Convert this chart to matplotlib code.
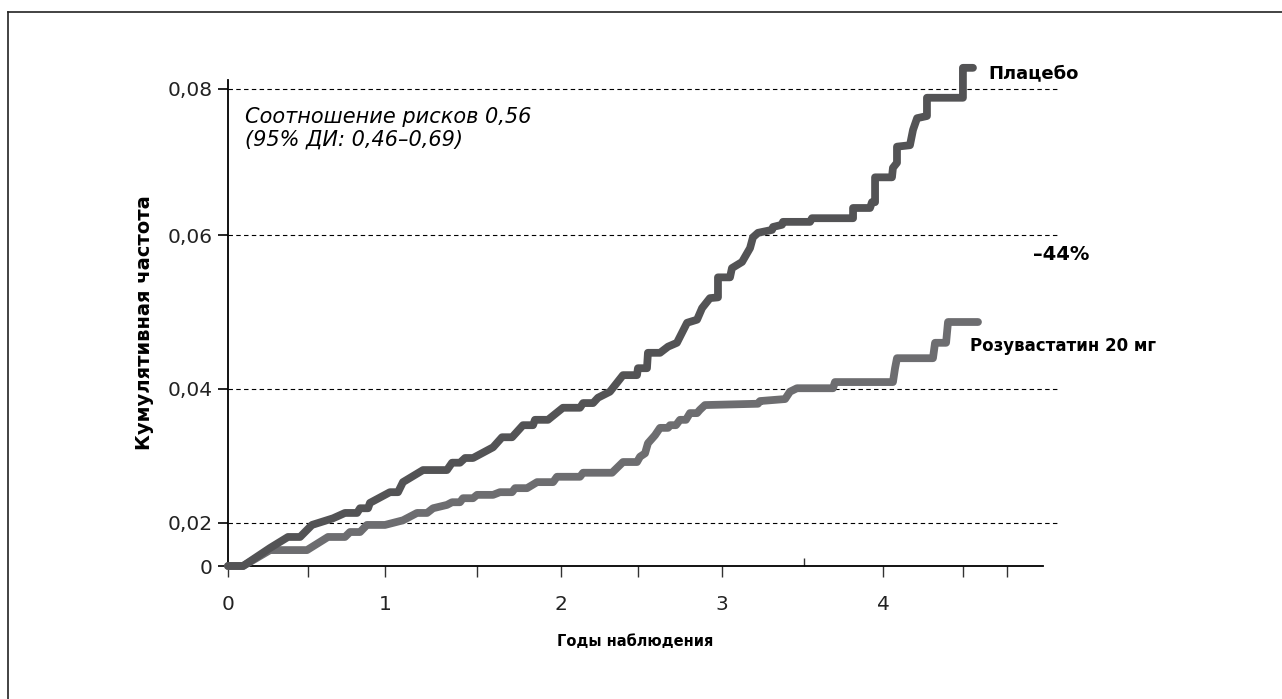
import numpy as np
import matplotlib
matplotlib.use("Agg")
import matplotlib.pyplot as plt
import matplotlib.lines as mlines

plt.rcParams['font.family'] = ['DejaVu Sans']

# years of follow-up / cumulative incidence
placebo_x = [0, 0.096, 0.268, 0.382, 0.459, 0.535, 0.669, 0.745, 0.822, 0.841, 0.892, 0.904,
             1.028, 1.074, 1.102, 1.216, 1.352, 1.381, 1.426, 1.455, 1.5, 1.614, 1.665, 1.722,
             1.784, 1.841, 1.852, 1.926, 2.012, 2.118, 2.137, 2.199, 2.230, 2.304, 2.385, 2.472,
             2.478, 2.534, 2.540, 2.615, 2.665, 2.720, 2.783, 2.845, 2.876, 2.925, 2.975, 2.975,
             3.049, 3.061, 3.123, 3.172, 3.190, 3.221, 3.307, 3.313, 3.368, 3.374, 3.540, 3.552,
             3.804, 3.804, 3.908, 3.920, 3.939, 3.939, 4.043, 4.049, 4.074, 4.074, 4.154, 4.173,
             4.198, 4.259, 4.259, 4.481, 4.481, 4.543]
placebo_y = [0, 0, 0.0084, 0.0135, 0.0135, 0.0191, 0.0207, 0.0215, 0.0215, 0.0222, 0.0222, 0.0230,
             0.0246, 0.0246, 0.0261, 0.0279, 0.0279, 0.0290, 0.0290, 0.0297, 0.0297, 0.0313, 0.0328, 0.0328,
             0.0346, 0.0346, 0.0354, 0.0354, 0.0372, 0.0372, 0.0379, 0.0379, 0.0387, 0.0396, 0.0418, 0.0418,
             0.0427, 0.0427, 0.0447, 0.0447, 0.0455, 0.0460, 0.0486, 0.0490, 0.0505, 0.0518, 0.0519, 0.0545,
             0.0545, 0.0557, 0.0565, 0.0583, 0.0597, 0.0603, 0.0607, 0.0611, 0.0614, 0.0618, 0.0618, 0.0623,
             0.0623, 0.0637, 0.0637, 0.0645, 0.0645, 0.0679, 0.0679, 0.0692, 0.0699, 0.0721, 0.0723, 0.0744,
             0.0760, 0.0763, 0.0788, 0.0788, 0.0829, 0.0829]

rosu_x = [0, 0.096, 0.268, 0.503, 0.637, 0.745, 0.777, 0.841, 0.885, 1.0, 1.102, 1.182, 1.239,
          1.273, 1.352, 1.381, 1.426, 1.443, 1.5, 1.523, 1.614, 1.653, 1.722, 1.739, 1.807, 1.864,
          1.955, 1.977, 2.118, 2.137, 2.317, 2.385, 2.472, 2.491, 2.522, 2.540, 2.584, 2.615, 2.665,
          2.677, 2.714, 2.739, 2.776, 2.801, 2.845, 2.863, 2.894, 3.221, 3.233, 3.387, 3.417, 3.460,
          3.681, 3.693, 4.049, 4.062, 4.074, 4.296, 4.309, 4.377, 4.389, 4.574]
rosu_y = [0, 0, 0.0074, 0.0074, 0.0135, 0.0135, 0.0158, 0.0158, 0.0191, 0.0191, 0.0204, 0.0215, 0.0215,
          0.0222, 0.0227, 0.0231, 0.0231, 0.0237, 0.0237, 0.0242, 0.0242, 0.0246, 0.0246, 0.0252, 0.0252, 0.0261,
          0.0261, 0.0269, 0.0269, 0.0275, 0.0275, 0.0291, 0.0291, 0.0299, 0.0304, 0.0319, 0.0331, 0.0342, 0.0342,
          0.0346, 0.0346, 0.0354, 0.0354, 0.0364, 0.0364, 0.0369, 0.0376, 0.0378, 0.0382, 0.0385, 0.0396, 0.0401,
          0.0401, 0.0409, 0.0409, 0.0427, 0.0440, 0.0440, 0.0460, 0.0460, 0.0487, 0.0487]

y_ticks = [0, 0.02, 0.04, 0.06, 0.08]
y_labels = ['0', '0,02', '0,04', '0,06', '0,08']
x_marks = [0, 0.51, 1, 1.52, 2, 2.48, 3, 3.5, 3.99, 4.48, 4.75]
x_labels = ['0', '', '1', '', '2', '', '3', '', '4', '', '']

# the printed axes are not evenly spaced, so use piecewise scales
xk = np.array([0, 1, 2, 3, 4, 5])
xp = np.array([0, 157, 333, 494, 657, 819])
yk = np.array([0, 0.02, 0.04, 0.06, 0.08, 0.10])
yp = np.array([0, 43, 177, 331, 477, 623])

fx = lambda v: np.interp(v, xk, xp)
ix = lambda v: np.interp(v, xp, xk)
fy = lambda v: np.interp(v, yk, yp)
iy = lambda v: np.interp(v, yp, yk)

fig = plt.figure(figsize=(12.82, 6.99), dpi=100)
ax = fig.add_axes([228/1282, 133/699, 815/1282, 486/699])
ax.set_xscale('function', functions=(fx, ix))
ax.set_yscale('function', functions=(fy, iy))
ax.set_xlim(0, ix(815))
ax.set_ylim(0, iy(486))

for g in y_ticks[1:]:
	ax.axhline(g, xmin=0, xmax=1.017, color='black', lw=0.8, ls=(0, (4, 3)), clip_on=False, zorder=1)

ax.plot(rosu_x, rosu_y, color='#6d6d70', lw=5.6, solid_capstyle='round', solid_joinstyle='round', clip_on=False, zorder=3)
ax.plot(placebo_x, placebo_y, color='#535355', lw=5.6, solid_capstyle='round', solid_joinstyle='round', clip_on=False, zorder=4)

for s in ['top', 'right']: ax.spines[s].set_visible(False)
for s in ['left', 'bottom']:
	ax.spines[s].set_linewidth(1.3)
	ax.spines[s].set_color('black')

ax.set_yticks(y_ticks)
ax.set_yticklabels(y_labels, fontsize=14.5, color='#222222')
ax.tick_params(axis='y', length=7, width=1.2, pad=4)

ax.set_xticks(x_marks)
ax.set_xticklabels(x_labels, fontsize=14.5, color='#222222')
ax.tick_params(axis='x', length=8, width=1, color='#333333', pad=13)
up = ax.xaxis.get_major_ticks()[x_marks.index(3.5)]
up.tick1line.set_marker(mlines.TICKUP)
up.tick1line.set_markersize(6)

ax.set_xlabel('Годы наблюдения', fontsize=10.5, fontweight='bold', labelpad=14)
ax.set_ylabel('Кумулятивная частота', fontsize=14, fontweight='bold', labelpad=10)

ax.text(0.108, 0.0753, 'Соотношение рисков 0,56', fontsize=15, style='italic', va='baseline', ha='left')
ax.text(0.108, 0.0723, '(95% ДИ: 0,46–0,69)', fontsize=15, style='italic', va='baseline', ha='left')
ax.text(4.636, 0.0822, 'Плацебо', fontsize=13, fontweight='bold', va='center', ha='left')
ax.text(4.914, 0.0575, '–44%', fontsize=14, fontweight='bold', va='center', ha='left')
ax.text(4.525, 0.0456, 'Розувастатин 20 мг', fontsize=12, fontweight='bold', va='center', ha='left')

# frame around the figure (left and top edges)
fig.add_artist(mlines.Line2D([8/1282, 8/1282], [0, 1 - 12/699], color='#222222', lw=1.2))
fig.add_artist(mlines.Line2D([8/1282, 1], [1 - 12/699, 1 - 12/699], color='#222222', lw=1.2))

fig.savefig('out.png', dpi=100)
